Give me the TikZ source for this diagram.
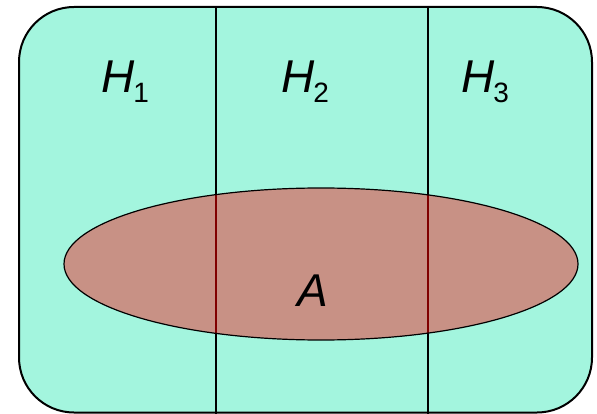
\documentclass[tikz,border=0pt]{standalone}
\usepackage{fontspec}
\setmainfont{Liberation Sans}
\usetikzlibrary{shapes.geometric}
\definecolor{aqua}{RGB}{163,245,222}
\definecolor{rose}{RGB}{200,145,133}
\definecolor{darkline}{RGB}{128,0,0}
\tikzset{
  lbl/.style={inner sep=0pt, anchor=base west, font=\fontsize{46}{50}\selectfont\itshape},
}
\newcommand{\subs}[1]{\kern-1pt\raisebox{-10pt}{\fontsize{28}{30}\selectfont\upshape #1}}
\begin{document}
\begin{tikzpicture}[x=1pt,y=-1pt]
\useasboundingbox (0,0) rectangle (597,414);
\draw[fill=aqua, line width=2pt, rounded corners=55pt] (19,7) rectangle (592,412.5);
\coordinate (t1) at (216,7);
\coordinate (b1) at (216,413.5);
\coordinate (t2) at (428,7);
\coordinate (b2) at (428,413.5);
\draw[line width=1.2pt] (t1) -- (b1);
\draw[line width=1.2pt] (t2) -- (b2);
\node[draw=none, fill=rose, ellipse, minimum width=514pt, minimum height=152pt, inner sep=0pt] (A) at (321,264) {};
\begin{scope}
\clip (321,264) ellipse [x radius=257, y radius=76];
\draw[line width=1.2pt, darkline] (t1) -- (b1);
\draw[line width=1.2pt, darkline] (t2) -- (b2);
\end{scope}
\draw[line width=1.2pt] (321,264) ellipse [x radius=257, y radius=76];
\node[lbl] (h1) at (101,93) {H\subs{1}};
\node[lbl] (h2) at (281,93) {H\subs{2}};
\node[lbl] (h3) at (461,93) {H\subs{3}};
\node[lbl] (a) at (297,306) {A};
\end{tikzpicture}
\end{document}
